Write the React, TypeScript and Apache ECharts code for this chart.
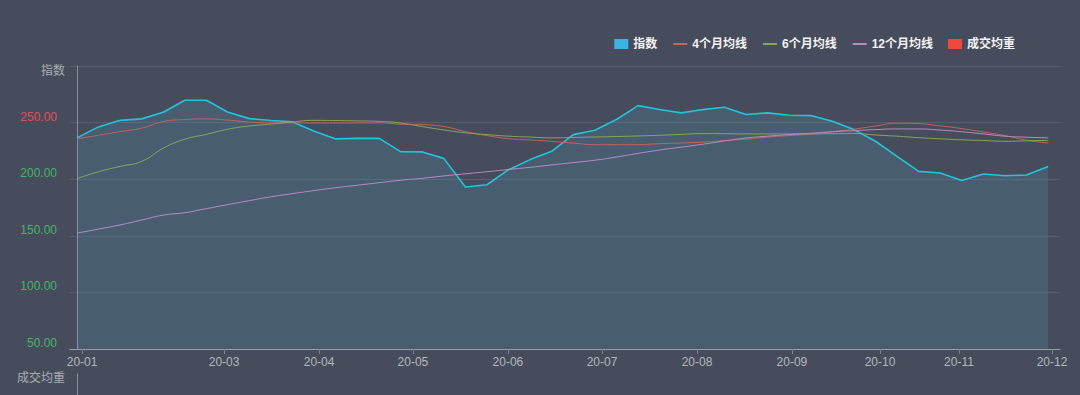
import React, { useEffect, useRef } from "react";
import * as echarts from "echarts";

// Weekly index values and moving averages (point index 0..45)
const indexValues = [
  236.5, 246.2, 252.0, 253.3, 259.1, 269.7, 269.7, 259.1, 253.5, 251.8,
  250.6, 242.3, 235.6, 236.1, 236.1, 224.3, 224.1, 218.4, 193.1, 195.1,
  208.4, 217.3, 224.6, 239.4, 243.2, 252.7, 265.0, 261.5, 258.6, 261.5,
  263.5, 257.1, 258.6, 256.5, 256.2, 251.2, 243.8, 233.5, 220.2, 206.9,
  205.5, 198.9, 204.6, 203.1, 203.7, 211.3,
];
const ma4Values = [
  235.6, 238.8, 242.0, 245.1, 250.9, 252.7, 253.3, 252.2, 250.5, 249.8,
  249.7, 249.7, 249.7, 249.7, 249.7, 248.6, 248.2, 246.5, 242.0, 238.5,
  235.8, 234.7, 233.4, 231.9, 230.5, 230.5, 230.5, 231.4, 232.0, 232.8,
  234.1, 235.4, 237.2, 238.5, 239.8, 242.0, 244.2, 247.0, 249.5, 249.1,
  247.1, 244.7, 241.6, 238.5, 234.5, 232.0,
];
const ma6Values = [
  200.4, 206.6, 211.3, 215.7, 227.4, 235.3, 239.6, 244.2, 247.0, 248.7,
  250.6, 252.0, 251.8, 251.5, 251.1, 249.6, 246.5, 243.5, 241.0, 239.4,
  238.0, 237.2, 236.5, 236.9, 237.3, 237.7, 238.2, 238.8, 239.6, 240.3,
  240.2, 240.0, 240.0, 240.0, 240.0, 240.2, 240.3, 239.1, 238.0, 236.7,
  235.7, 234.8, 234.2, 233.5, 233.9, 234.3,
];
const ma12Values = [
  152.4, 155.9, 159.6, 163.9, 168.3, 170.4, 174.0, 177.6, 181.1, 184.5,
  187.3, 190.0, 192.5, 194.7, 196.9, 199.1, 200.8, 202.9, 204.8, 206.6,
  208.6, 210.5, 212.6, 214.7, 216.8, 219.6, 222.8, 225.8, 228.3, 230.9,
  233.8, 236.4, 238.0, 239.4, 240.6, 241.9, 242.9, 243.8, 244.4, 244.4,
  243.4, 241.9, 240.0, 238.0, 237.1, 236.5,
];
// Volume series sits in the lower grid, which is cut off below the picture
const volumeValues: number[] = [];

// Month tick labels and their position along the point index
const monthLabels = ["20-01", "20-03", "20-04", "20-05", "20-06", "20-07", "20-08", "20-09", "20-10", "20-11", "20-12"];
const monthTickPos = [0.24, 6.82, 11.22, 15.57, 19.97, 24.33, 28.73, 33.13, 37.21, 40.87, 45.18];

const seriesNames = ["指数", "4个月均线", "6个月均线", "12个月均线", "成交均重"];

const FONT = 'Arial, "Liberation Sans", "Noto Sans CJK SC", sans-serif';

const toPairs = (arr: number[]) => arr.map((v, i) => [i, v]);

export default function App() {
  const ref = useRef<HTMLDivElement>(null);
  useEffect(() => {
    document.body.style.margin = "0";
    const chart = echarts.init(ref.current!, null, { renderer: "svg" });
    const xMin = -0.32;
    const xMax = 45.55;
    const hiddenSymbol = { opacity: 0 };
    chart.setOption({
      animation: false,
      backgroundColor: "#464c5b",
      textStyle: { fontFamily: FONT },
      legend: {
        top: 33,
        right: 60,
        itemWidth: 14,
        itemHeight: 10,
        itemGap: 15,
        textStyle: { color: "#f2f2f2", fontSize: 12, fontWeight: "bold", fontFamily: FONT },
        data: [
          { name: seriesNames[0], icon: "rect" },
          { name: seriesNames[1], itemStyle: hiddenSymbol },
          { name: seriesNames[2], itemStyle: hiddenSymbol },
          { name: seriesNames[3], itemStyle: hiddenSymbol },
          { name: seriesNames[4], icon: "rect" },
        ],
      },
      grid: [
        { left: 70, right: 20, top: 66, bottom: 46, outerBoundsMode: "none", containLabel: false },
        { left: 70, right: 20, top: 374, height: 100, outerBoundsMode: "none", containLabel: false },
      ],
      xAxis: [
        {
          type: "value",
          gridIndex: 0,
          min: xMin,
          max: xMax,
          axisLine: { show: true, lineStyle: { color: "#9a9ea8", width: 1 } },
          axisTick: { show: true, customValues: monthTickPos, length: 5, lineStyle: { color: "#7d828e" } },
          axisLabel: {
            customValues: monthTickPos,
            margin: 7,
            color: "#b4b7be",
            fontSize: 12,
            fontFamily: FONT,
            formatter: (v: number) => {
              let best = 0;
              monthTickPos.forEach((p, i) => {
                if (Math.abs(p - v) < Math.abs(monthTickPos[best] - v)) best = i;
              });
              return monthLabels[best];
            },
          },
          splitLine: { show: false },
        },
        {
          type: "value",
          gridIndex: 1,
          min: xMin,
          max: xMax,
          show: false,
        },
      ],
      yAxis: [
        {
          type: "value",
          gridIndex: 0,
          min: 50,
          max: 300,
          interval: 50,
          name: "指数",
          nameLocation: "end",
          nameGap: -5,
          nameTextStyle: { color: "#a9adb5", fontSize: 12, align: "right", verticalAlign: "middle", padding: [0, 12, 0, 0], fontFamily: FONT },
          axisLine: { show: true, lineStyle: { color: "#8a8f9a" } },
          axisTick: { show: false },
          axisLabel: {
            showMaxLabel: false,
            margin: 13,
            verticalAlign: "bottom",
            fontSize: 12,
            fontFamily: FONT,
            formatter: (v: number) => (v === 250 ? `{r|${v.toFixed(2)}}` : `{g|${v.toFixed(2)}}`),
            rich: {
              r: { color: "#e0505a", fontSize: 12, fontFamily: FONT },
              g: { color: "#45b46a", fontSize: 12, fontFamily: FONT },
            },
          },
          splitLine: { show: true, lineStyle: { color: "rgba(255,255,255,0.1)", width: 1 } },
        },
        {
          type: "value",
          gridIndex: 1,
          name: "成交均重",
          nameLocation: "end",
          nameGap: -4,
          nameTextStyle: { color: "#a9adb5", fontSize: 12, align: "right", verticalAlign: "middle", padding: [0, 12, 0, 0], fontFamily: FONT },
          axisLine: { show: true, lineStyle: { color: "#8a8f9a" } },
          axisTick: { show: false },
          axisLabel: { show: false },
          splitLine: { show: false },
        },
      ],
      series: [
        {
          name: seriesNames[0],
          type: "line",
          xAxisIndex: 0,
          yAxisIndex: 0,
          data: toPairs(indexValues),
          symbol: "none",
          color: "#3bb4e4",
          lineStyle: { color: "#22c4dc", width: 1.6 },
          areaStyle: { color: "rgba(85,165,205,0.28)", origin: "start" },
          z: 2,
        },
        {
          name: seriesNames[1],
          type: "line",
          xAxisIndex: 0,
          yAxisIndex: 0,
          data: toPairs(ma4Values),
          symbol: "none",
          smooth: true,
          color: "#c4635f",
          lineStyle: { color: "#c4635f", width: 1 },
          z: 3,
        },
        {
          name: seriesNames[2],
          type: "line",
          xAxisIndex: 0,
          yAxisIndex: 0,
          data: toPairs(ma6Values),
          symbol: "none",
          smooth: true,
          color: "#86a85a",
          lineStyle: { color: "#86a85a", width: 1 },
          z: 3,
        },
        {
          name: seriesNames[3],
          type: "line",
          xAxisIndex: 0,
          yAxisIndex: 0,
          data: toPairs(ma12Values),
          symbol: "none",
          smooth: true,
          color: "#b88cc0",
          lineStyle: { color: "#b88cc0", width: 1 },
          z: 3,
        },
        {
          name: seriesNames[4],
          type: "bar",
          xAxisIndex: 1,
          yAxisIndex: 1,
          data: toPairs(volumeValues as number[]),
          color: "#f0473f",
        },
      ],
    });
    return () => chart.dispose();
  }, []);
  return <div ref={ref} style={{ width: 1080, height: 395 }} />;
}
